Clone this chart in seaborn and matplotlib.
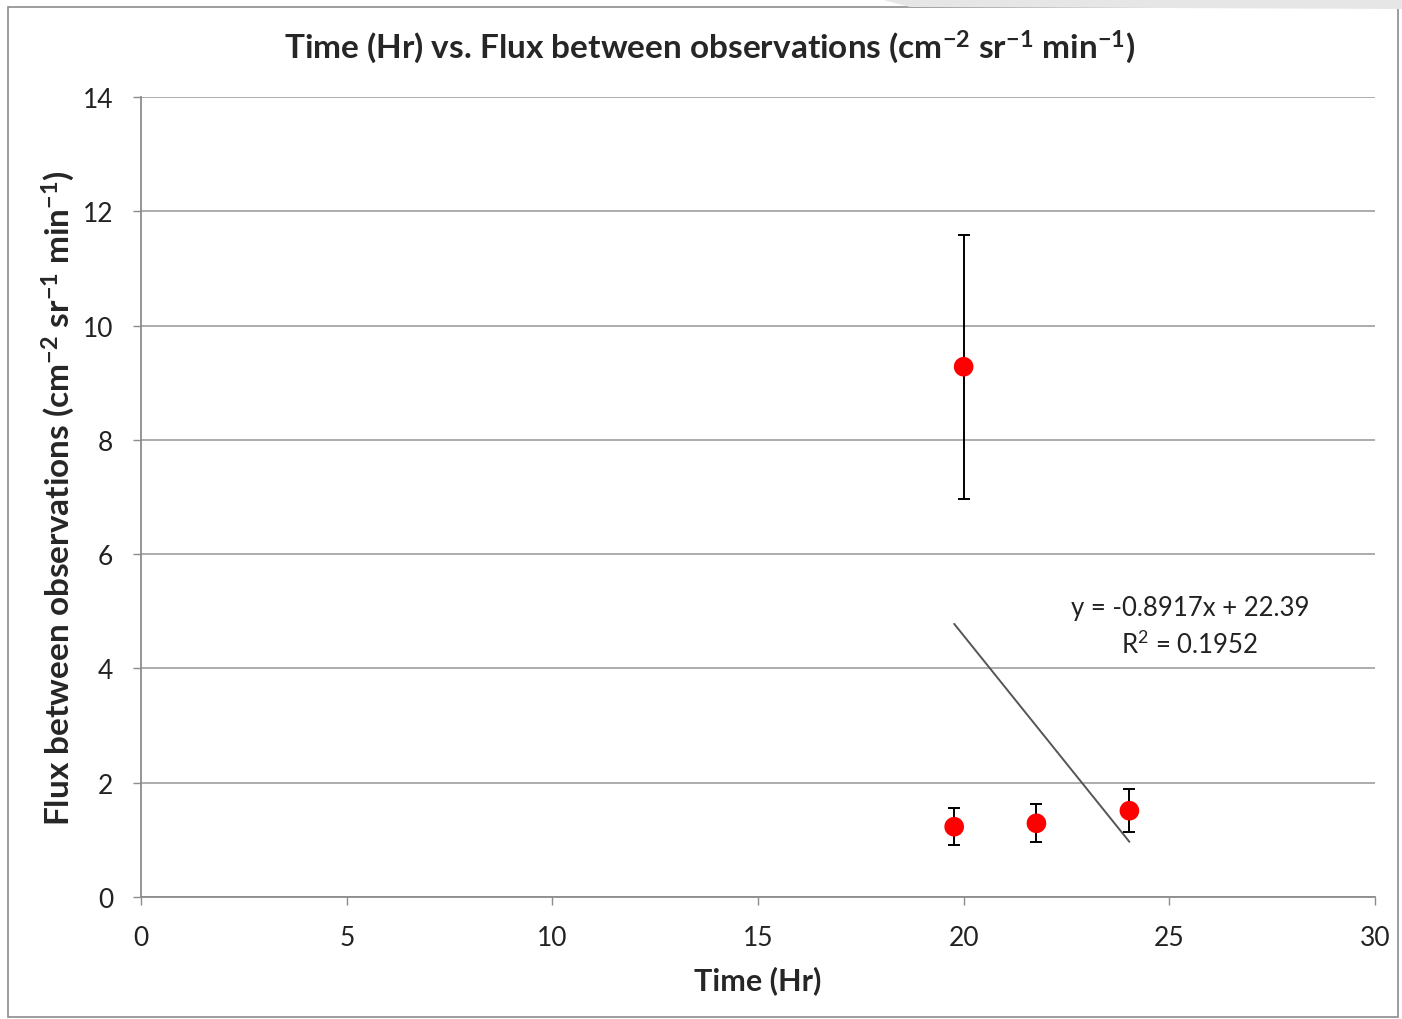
import numpy as np
import pandas as pd
import seaborn as sns
import matplotlib.pyplot as plt
from matplotlib.patches import Rectangle, Polygon

# data
time_hr = [19.77, 20.0, 21.77, 24.03]
flux = [1.23, 9.28, 1.29, 1.51]
flux_err = [0.32, 2.31, 0.33, 0.38]

eq_text = "y = -0.8917x + 22.39"
r2_text = "R$^2$ = 0.1952"

sns.set_theme(style="white")
plt.rcParams["font.family"] = ["Lato", "DejaVu Sans"]
plt.rcParams["mathtext.fontset"] = "custom"
plt.rcParams["mathtext.rm"] = "Lato"
plt.rcParams["mathtext.bf"] = "Lato:bold"

df = pd.DataFrame({"time": time_hr, "flux": flux, "err": flux_err})

fig = plt.figure(figsize=(14.02, 10.2), dpi=100)
ax = fig.add_axes([0.1006, 0.1196, 0.8801, 0.7843])

# outer chart frame
fig.patches.append(Rectangle((8 / 1402, 2 / 1020), 1390 / 1402, 1010 / 1020,
                             transform=fig.transFigure, fill=False,
                             edgecolor="#8c8c8c", linewidth=1.2))
fig.patches.append(Polygon([(880 / 1402, 1.0), (1.0, 1.0), (1.0, 1010 / 1020),
                            (910 / 1402, 1012 / 1020)],
                           transform=fig.transFigure, closed=True,
                           facecolor="#e6e6e6", edgecolor="none"))

ax.errorbar(df["time"], df["flux"], yerr=df["err"], fmt="none",
            ecolor="black", elinewidth=1.4, capsize=4.5, capthick=1.4, zorder=3)
sns.scatterplot(data=df, x="time", y="flux", color="#ff0000", s=200,
                edgecolor="none", ax=ax, zorder=4)
sns.regplot(data=df, x="time", y="flux", scatter=False, ci=None, truncate=True,
            line_kws={"color": "#555555", "linewidth": 1.4}, ax=ax)

ax.text(25.5, 5.07, eq_text, ha="center", va="center", fontsize=18.5, color="#222222")
ax.text(25.5, 4.44, r2_text, ha="center", va="center", fontsize=18.5, color="#222222")

ax.set_xlim(0, 30)
ax.set_ylim(0, 14)
ax.set_xticks(range(0, 31, 5))
ax.set_yticks(range(0, 15, 2))
ax.grid(axis="y", color="#a6a6a6", linewidth=1.3)
ax.grid(axis="x", visible=False)
for side in ["top", "right"]:
    ax.spines[side].set_visible(False)
for side in ["left", "bottom"]:
    ax.spines[side].set_color("#8c8c8c")
    ax.spines[side].set_linewidth(1.3)
ax.tick_params(axis="both", direction="out", length=6, width=1, color="#8c8c8c",
               labelsize=19, labelcolor="#222222", bottom=True, left=True)
ax.tick_params(axis="x", pad=14)
ax.tick_params(axis="y", pad=14)

ax.set_xlabel("Time (Hr)", fontsize=22, fontweight="bold", labelpad=11)
ax.set_ylabel(r"Flux between observations (cm$\mathbf{^{-2}}$ sr$\mathbf{^{-1}}$ min$\mathbf{^{-1}}$)",
              fontsize=24, fontweight="bold", labelpad=4)
fig.text(0.506, 0.954,
         r"Time (Hr) vs. Flux between observations (cm$\mathbf{^{-2}}$ sr$\mathbf{^{-1}}$ min$\mathbf{^{-1}}$)",
         ha="center", va="center", fontsize=24, fontweight="bold")

fig.savefig("out.png", dpi=100)
